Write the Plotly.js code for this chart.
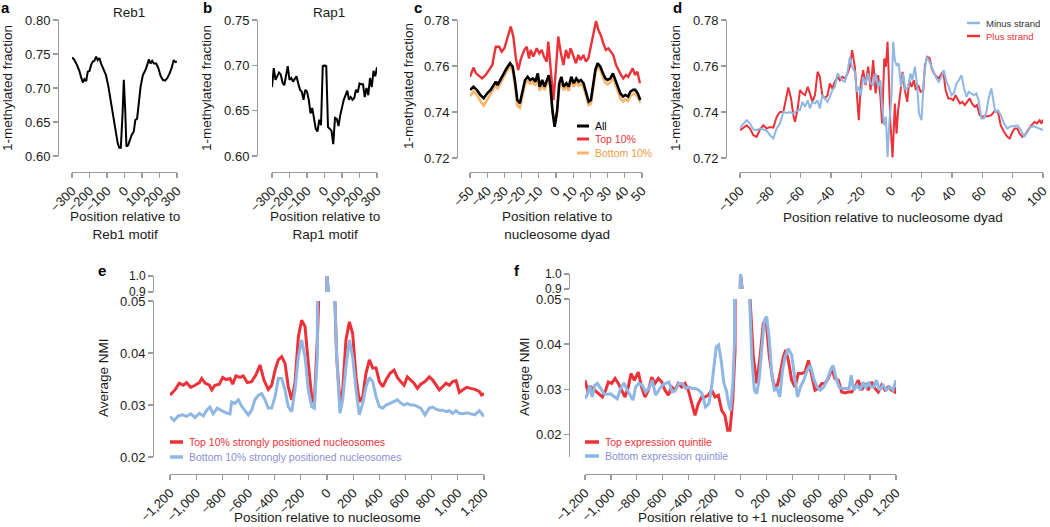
<!DOCTYPE html>
<html><head><meta charset="utf-8">
<script src="https://cdn.plot.ly/plotly-3.0.1.min.js"></script>
<style>html,body{margin:0;padding:0;background:#fff;} #chart{width:1050px;height:527px;}</style>
</head><body><div id="chart"></div>
<script>
// ---------- DATA ----------
// Panel a: Reb1
const aPos = [-300,-288,-272,-259,-248,-238,-229,-219,-210,-200,-191,-181,-172,-162,-153,-143,-134,-121,-106,-92,-79,-64,-51,-39,-30,-21,-11,-4,4,11,21,30,41,53,62,72,81,92,105,119,130,139,149,158,168,181,194,206,219,232,243,257,270,281,291,300];
const aVal = [0.745,0.742,0.734,0.726,0.716,0.708,0.713,0.710,0.724,0.725,0.734,0.739,0.740,0.746,0.741,0.744,0.736,0.729,0.719,0.702,0.682,0.658,0.633,0.619,0.612,0.612,0.663,0.712,0.668,0.614,0.616,0.624,0.631,0.636,0.653,0.655,0.682,0.702,0.719,0.726,0.734,0.742,0.736,0.740,0.736,0.736,0.729,0.718,0.712,0.711,0.714,0.721,0.730,0.741,0.738,0.739];
// Panel b: Rap1
const bPos = [-300,-290,-280,-270,-260,-250,-240,-230,-220,-210,-200,-190,-180,-170,-160,-150,-140,-130,-120,-110,-100,-90,-80,-70,-60,-50,-40,-30,-20,-10,0,10,20,30,40,50,60,70,80,90,100,110,120,130,140,150,160,170,180,190,200,210,220,230,240,250,260,270,280,290,300];
const bVal = [0.676,0.697,0.684,0.688,0.692,0.690,0.681,0.678,0.687,0.699,0.684,0.686,0.682,0.685,0.688,0.680,0.673,0.671,0.662,0.673,0.671,0.662,0.647,0.653,0.642,0.630,0.627,0.640,0.634,0.699,0.700,0.699,0.632,0.630,0.628,0.613,0.642,0.641,0.633,0.645,0.654,0.662,0.667,0.672,0.662,0.665,0.662,0.664,0.673,0.670,0.680,0.679,0.679,0.665,0.675,0.667,0.686,0.676,0.694,0.688,0.698];
// Panel c: nucleosome dyad
const cTopPos = [-50,-48,-46.5,-45,-43,-41,-39,-37,-36,-35,-33,-31.6,-30,-28,-26.3,-24.8,-23.3,-22,-20.3,-18.4,-17,-15.7,-14.7,-13.2,-11.2,-9.7,-8.3,-7,-5.4,-4.5,-3.1,-1.5,0,1.3,2.7,4.3,5.8,7.2,8.5,10,11.6,13,14.3,15.9,17.4,18.8,20.3,21.7,23.3,24.6,26,27.5,29,30.4,31.8,33.3,34.9,36.2,37.8,39.1,40.7,42,43.4,44.6,45.9,47.3,48.8];
const cTopVal = [.7553,.7593,.7568,.756,.7546,.756,.7583,.7604,.7648,.7684,.7684,.7662,.7677,.7728,.7771,.7728,.7633,.7583,.7633,.767,.7684,.7633,.767,.7641,.7677,.7655,.767,.7641,.7619,.7706,.759,.7452,.759,.7728,.7662,.7604,.767,.7633,.7677,.7648,.7612,.7648,.7626,.7648,.7619,.7633,.7691,.7749,.7796,.7757,.7735,.7699,.767,.7677,.7662,.7648,.7604,.7583,.7561,.7546,.7561,.7553,.7575,.759,.7561,.7575,.7525];
const cAllPos = [-50,-48,-46,-44,-42,-40,-38,-36.5,-35,-34,-32,-30.6,-28.7,-26.7,-25.2,-23.8,-22.5,-21,-19.4,-18,-16.5,-15,-13.5,-12,-10.6,-9.5,-8,-6.7,-5.6,-4.2,-3.3,-2,-0.8,0.6,1.9,3.1,4.4,6,7.4,8.9,10.3,11.8,13.2,14.5,16,17.6,19,20.3,21.5,22.9,24.2,25.8,27.3,28.7,30,31.6,33.1,34.5,35.8,37.4,39,40.3,41.9,43.2,44.8,46.1,47.5,49];
const cAllVal = [.7496,.751,.7496,.7474,.746,.7481,.7496,.7517,.7532,.7517,.7546,.7568,.759,.7612,.7597,.7532,.7452,.7438,.7488,.7539,.7553,.7539,.7546,.7532,.7568,.751,.7539,.751,.7532,.756,.7517,.7401,.7336,.7401,.7525,.7553,.751,.7525,.751,.7553,.7525,.7546,.7532,.7539,.7525,.7481,.7445,.7452,.7517,.7583,.7612,.7597,.7568,.7546,.7539,.7546,.7568,.7539,.751,.7481,.7467,.7474,.7467,.7488,.7496,.7496,.7481,.7452];
const cBotVal = [.7468,.749,.7475,.7448,.7428,.7455,.748,.7502,.7518,.75,.7528,.7552,.7577,.7598,.7582,.7512,.7428,.7418,.747,.7522,.754,.7522,.753,.7515,.755,.7492,.7522,.7495,.7515,.7545,.7505,.7405,.7355,.7405,.751,.7538,.7495,.751,.7492,.7538,.751,.753,.7515,.7522,.7508,.7462,.743,.7436,.7502,.7568,.7598,.7582,.755,.7528,.752,.753,.755,.752,.7492,.746,.7445,.7455,.7448,.747,.7478,.748,.7465,.744];
// Panel d: strands
const dPlusPos = [-100,-97.8,-95.6,-93.4,-91.2,-89,-86.8,-84.6,-82.4,-80.2,-78,-75.8,-73.6,-71.4,-69.6,-68.1,-66.3,-64.8,-63.7,-61.9,-60.4,-58.8,-57.1,-55.3,-53.8,-52.3,-50.5,-48.8,-47.3,-45.7,-44,-42.2,-40.7,-39.1,-37.4,-35.6,-34.1,-32.5,-30.8,-29,-27.5,-26,-24.2,-22.9,-21.6,-20.2,-18.7,-17.1,-15.4,-13.8,-12.1,-10.5,-8.8,-7.3,-6.2,-4.8,-3.7,-2.6,-1.8,-0.7,0.7,2.2,3.3,4.4,6,7.3,8.8,10.4,11.7,13.2,14.8,16.1,17.6,19.2,21,22.1,23.6,25.2,26.5,28,29.8,31.3,33.1,34.2,35.7,37.5,39,40.8,42.3,43.6,45.2,46.7,48.4,50,51.6,53.1,54.9,56.4,58.2,59.7,61.5,63.7,65.9,68.1,70.3,72.1,74.3,76.5,78,79.8,81.3,83.1,84.6,86.4,87.9,90.1,92.3,94.5,96,97.8,98.9,100];
const dPlusVal = [.7321,.7332,.7342,.7328,.7299,.7292,.7324,.7342,.7328,.7335,.7332,.7379,.74,.74,.7459,.7507,.7459,.7386,.7357,.7415,.7495,.7481,.7473,.7509,.7481,.7444,.7473,.7575,.7553,.7473,.7459,.7473,.7524,.7502,.7531,.7553,.7538,.7553,.7546,.7568,.7597,.7669,.7597,.7459,.7364,.7524,.7582,.7517,.7597,.7495,.7626,.7481,.756,.7466,.735,.7633,.7597,.7705,.7538,.735,.7202,.7437,.7306,.7408,.7495,.7575,.7495,.7444,.7538,.7509,.7538,.7495,.7517,.7488,.7495,.7604,.764,.7633,.759,.7568,.7553,.7546,.7568,.7575,.7495,.7459,.7459,.7451,.7473,.7459,.7437,.7444,.743,.7444,.7459,.7437,.7422,.743,.7386,.7379,.7382,.7382,.7386,.7405,.74,.7342,.7313,.7292,.7285,.7313,.7328,.7328,.7306,.7292,.7299,.7321,.7342,.7357,.735,.7364,.735,.7367];
const dMinusPos = [-100,-97.8,-95.6,-93.4,-91.2,-89,-86.8,-84.6,-82.4,-80.2,-78,-75.8,-73.6,-71.4,-69.2,-67,-64.8,-62.6,-60.4,-58.8,-57.1,-55.3,-53.8,-52.3,-50.5,-48.8,-47.3,-45.7,-44,-42.2,-40.7,-39.1,-37.4,-35.6,-34.1,-32.5,-30.8,-29,-27.5,-26,-24.2,-22.9,-21.6,-20.2,-18.7,-17.1,-15.4,-13.8,-12.1,-10.5,-8.8,-7.3,-6.2,-4.8,-3.7,-2.6,-1.5,0,1.1,2.2,3.3,4.8,6.2,7.7,9.2,11,12.5,13.8,15.4,16.9,18.2,19.8,21.3,23.1,24.6,26.4,27.9,29.7,31.2,33,34.5,36.3,37.8,39.6,41.1,42.9,44.4,46.2,47.7,49.5,51,52.7,54.3,56,57.5,59.3,61,62.6,64.1,65.9,67,68.5,70.3,72.1,74.3,76.5,78.7,80.9,83.1,85.3,87.5,89.7,91.9,94.1,96.3,98.5,100];
const dMinusVal = [.7332,.735,.7364,.735,.7324,.7321,.7328,.7324,.7318,.7299,.7285,.7328,.735,.74,.7396,.74,.7393,.7405,.7408,.7444,.7422,.7451,.7415,.7444,.7437,.7451,.7415,.7473,.7459,.7444,.7466,.7495,.7509,.7568,.7553,.7538,.7531,.7575,.764,.7597,.7575,.7488,.7509,.7473,.7553,.7524,.7568,.7524,.7517,.7568,.7509,.7538,.7422,.7342,.7379,.7204,.735,.7466,.7705,.7626,.7604,.7611,.7509,.7568,.7495,.7509,.7568,.7538,.7597,.7517,.7393,.7364,.7538,.764,.7626,.7597,.7575,.7546,.7531,.7553,.7582,.7531,.7509,.7473,.7481,.7524,.7538,.756,.7509,.7466,.7488,.7481,.7473,.7481,.7451,.7372,.7372,.74,.7459,.7502,.7451,.74,.7408,.7386,.735,.7328,.7338,.7338,.7342,.7324,.7292,.7313,.7335,.7338,.7332,.7328,.7321];
// Panel e: NMI around nucleosome
const eTopPos = [-1200,-1162,-1129,-1098,-1073,-1042,-1009,-976,-958,-932,-899,-881,-856,-823,-797,-772,-741,-721,-696,-665,-640,-609,-576,-543,-512,-482,-449,-423,-397,-372,-346,-321,-296,-270,-245,-219,-194,-168,-143,-117,-97,-74,-50,-25,0,25,48,74,99,120,145,171,196,222,247,273,298,324,349,375,400,426,451,482,512,538,563,589,614,640,665,691,716,749,782,808,833,859,884,910,935,961,986,1012,1037,1068,1098,1131,1164,1182,1200];
const eTopVal = [.0319,.0329,.0342,.0338,.0343,.0334,.0338,.0343,.0351,.0342,.0338,.0329,.0338,.034,.0353,.0349,.0351,.034,.0356,.0353,.0356,.0343,.0345,.0358,.0377,.0348,.033,.0338,.0367,.0387,.0393,.038,.0335,.031,.0342,.0431,.0463,.0451,.038,.0316,.0303,.0425,.06,.2,1.0,.2,.06,.0393,.0303,.0329,.0425,.046,.0438,.0354,.0306,.0316,.0361,.0387,.0371,.0371,.0345,.0335,.0348,.0361,.0367,.0353,.0345,.0338,.0354,.0348,.0342,.0332,.034,.0345,.0354,.0348,.0338,.0329,.0335,.0342,.0338,.0345,.0347,.0324,.0329,.0334,.0332,.033,.0326,.0319,.0322];
const eBotPos = [-1200,-1169,-1137,-1104,-1073,-1042,-1009,-976,-945,-920,-895,-870,-839,-806,-772,-741,-729,-704,-678,-653,-627,-602,-576,-551,-525,-500,-474,-449,-423,-397,-372,-346,-321,-296,-270,-245,-219,-194,-168,-143,-117,-97,-74,-50,-25,0,25,48,74,99,120,145,171,196,222,247,273,298,324,349,375,400,426,451,482,512,538,563,589,614,640,665,691,716,749,782,808,833,859,884,910,935,961,986,1012,1037,1068,1098,1131,1164,1200];
const eBotVal = [.0278,.027,.0279,.0281,.0278,.0283,.0276,.0284,.0279,.029,.0296,.0283,.0294,.0289,.0285,.0283,.0306,.0303,.031,.0298,.029,.0281,.029,.031,.0319,.0322,.031,.0294,.0294,.0316,.0351,.0351,.0329,.0297,.0287,.0329,.0393,.0425,.0393,.0329,.0297,.0294,.0393,.06,.2,1.0,.2,.06,.0393,.0284,.031,.0374,.0425,.0393,.0329,.0281,.0303,.0335,.0353,.0345,.0316,.0297,.0294,.03,.0303,.0306,.031,.0304,.03,.0303,.03,.03,.0297,.0294,.0281,.0294,.0296,.0292,.029,.029,.0287,.0289,.0284,.0289,.0284,.0283,.0285,.0283,.0281,.0289,.0278];
// Panel f: NMI around +1 nucleosome
const fTopPos = [-1200,-1180,-1154,-1128,-1097,-1066,-1040,-1020,-994,-968,-943,-917,-891,-866,-845,-819,-789,-763,-737,-711,-685,-660,-634,-608,-583,-557,-531,-505,-480,-454,-428,-403,-377,-351,-326,-300,-274,-248,-222,-197,-171,-145,-120,-99,-81,-60,-42,-20,0,20,45,74,99,125,151,176,197,223,249,274,300,331,349,369,395,421,446,472,498,524,549,575,601,627,652,678,704,729,755,781,806,832,858,884,909,935,961,986,1012,1038,1063,1089,1115,1140,1166,1192,1200];
const fTopVal = [.032,.0298,.0305,.0298,.029,.0283,.0298,.0316,.0313,.0324,.0313,.0298,.0283,.0305,.0335,.032,.0338,.0305,.0283,.0298,.0327,.0313,.0324,.0316,.0298,.0287,.0305,.0298,.0313,.0305,.0313,.0298,.0268,.0242,.0268,.0283,.0283,.0287,.0298,.0283,.0287,.0253,.0242,.0209,.0209,.0276,.0387,.1,1.0,.3,.1,.0498,.0372,.0313,.0372,.0446,.0453,.0372,.032,.0298,.0327,.0372,.0387,.0364,.032,.0305,.0335,.0335,.0338,.0364,.0331,.0298,.0302,.0313,.0313,.0324,.0346,.0324,.032,.0294,.0292,.0294,.0294,.0305,.032,.0298,.0313,.0298,.0316,.0302,.0294,.0309,.0298,.0305,.0298,.0294,.0305];
const fBotPos = [-1200,-1180,-1163,-1145,-1125,-1104,-1079,-1053,-1028,-1002,-976,-951,-925,-899,-874,-848,-830,-809,-784,-758,-732,-707,-681,-655,-630,-604,-578,-553,-527,-501,-475,-450,-424,-398,-373,-347,-321,-296,-270,-244,-226,-205,-187,-169,-149,-128,-110,-92,-77,-59,-46,-20,0,20,45,66,87,107,125,143,164,184,202,220,241,262,282,303,324,344,369,395,421,441,462,488,514,539,565,591,616,642,668,694,714,735,761,786,812,838,854,874,900,925,946,967,987,1007,1028,1048,1074,1100,1125,1151,1176,1200];
const fBotVal = [.0279,.029,.0309,.0283,.0309,.0313,.0302,.029,.0289,.029,.0284,.0279,.0302,.0314,.0298,.0283,.0276,.0305,.0313,.0309,.0294,.0302,.032,.0287,.0298,.0309,.0313,.0316,.0294,.0298,.0313,.0313,.0302,.0305,.0302,.0302,.0298,.029,.0261,.0268,.0298,.0357,.0394,.0398,.0364,.0313,.0298,.0268,.0253,.0313,.0409,.2,1.0,.25,.07,.055,.0372,.0298,.029,.032,.0394,.0453,.0461,.0416,.0335,.0298,.0302,.0283,.0342,.0372,.039,.0376,.032,.0283,.0305,.032,.0342,.0353,.0324,.0305,.0298,.0305,.032,.0342,.0353,.0327,.0305,.0302,.0302,.0302,.0331,.0298,.0309,.0298,.0316,.0302,.0316,.0305,.0305,.032,.0298,.0309,.0298,.0305,.0298,.032];

// ---------- STYLE / LAYOUT ----------
const W = 1050, H = 527;
const fx = p => p / W;
const fy = p => 1 - p / H;
const FONT = '"Liberation Sans", Arial, Helvetica, sans-serif';
const AXC = '#9b9b9b';
const TXT = '#1a1a1a';
const RED = '#ec3238', BLUE = '#8fb7e3', ORANGE = '#fbb46c', BLACK = '#000000';
const LEGBLUE = '#8c90d8';

function xax(l, r, yline, range, dtick, fmt) {
  return {domain: [fx(l), fx(r)], range: range, anchor: 'free', position: fy(yline),
    showline: true, linecolor: AXC, linewidth: 1.3, ticks: 'outside', ticklen: 5, tickcolor: AXC, tickwidth: 1.3,
    tick0: 0, dtick: dtick, tickangle: -45, tickformat: fmt, showgrid: false, zeroline: false,
    tickfont: {family: FONT, size: 13, color: TXT}, fixedrange: true};
}
function yax(b, t, xline, range, dtick, fmt, extra) {
  const o = {domain: [fy(b), fy(t)], range: range, anchor: 'free', position: fx(xline),
    showline: true, linecolor: AXC, linewidth: 1.3, ticks: 'outside', ticklen: 5, tickcolor: AXC, tickwidth: 1.3,
    tick0: 0, dtick: dtick, tickformat: fmt, showgrid: false, zeroline: false,
    tickfont: {family: FONT, size: 13, color: TXT}, fixedrange: true};
  return Object.assign(o, extra || {});
}
function line(x, y, xa, ya, color, width, name) {
  return {x: x, y: y, xaxis: xa, yaxis: ya, type: 'scatter', mode: 'lines', name: name,
    line: {color: color, width: width}, showlegend: false, hoverinfo: 'skip'};
}

const traces = [
  line(aPos, aVal, 'x', 'y', BLACK, 2, 'Reb1'),
  line(bPos, bVal, 'x2', 'y2', BLACK, 2, 'Rap1'),
  line(cAllPos, cBotVal, 'x3', 'y3', ORANGE, 2.6, 'Bottom 10%'),
  line(cTopPos, cTopVal, 'x3', 'y3', RED, 2.4, 'Top 10%'),
  line(cAllPos, cAllVal, 'x3', 'y3', BLACK, 2.6, 'All'),
  line(dPlusPos, dPlusVal, 'x4', 'y4', RED, 2, 'Plus strand'),
  line(dMinusPos, dMinusVal, 'x4', 'y4', BLUE, 2, 'Minus strand'),
  line(eTopPos, eTopVal, 'x5', 'y5', RED, 3, 'Top 10% strongly positioned nucleosomes'),
  line(eBotPos, eBotVal, 'x5', 'y5', BLUE, 3, 'Bottom 10% strongly positioned nucleosomes'),
  line(eTopPos, eTopVal, 'x5', 'y6', RED, 3, 'Top 10% (break)'),
  line(eBotPos, eBotVal, 'x5', 'y6', BLUE, 3, 'Bottom 10% (break)'),
  line(fTopPos, fTopVal, 'x6', 'y7', RED, 3, 'Top expression quintile'),
  line(fBotPos, fBotVal, 'x6', 'y7', BLUE, 3, 'Bottom expression quintile'),
  line(fTopPos, fTopVal, 'x6', 'y8', RED, 3, 'Top (break)'),
  line(fBotPos, fBotVal, 'x6', 'y8', BLUE, 3, 'Bottom (break)')
];

const annotations = [];
const shapes = [];
function txt(x, y, text, opts) {
  opts = opts || {};
  annotations.push({xref: 'paper', yref: 'paper', x: fx(x), y: fy(y), text: text, showarrow: false,
    xanchor: opts.xanchor || 'center', yanchor: opts.yanchor || 'middle', textangle: opts.angle || 0,
    align: opts.align || 'center',
    font: {family: FONT, size: opts.size || 13.5, color: opts.color || TXT}});
}
function legendItem(x0, x1, y, color, lw, label, labelColor, size) {
  shapes.push({type: 'line', xref: 'paper', yref: 'paper', x0: fx(x0), x1: fx(x1), y0: fy(y), y1: fy(y),
    line: {color: color, width: lw}});
  txt(x1 + 4, y, label, {xanchor: 'left', size: size, color: labelColor});
}

// panel letters
txt(-1, 8, '<b>a</b>', {xanchor: 'left', size: 15, color: '#000'});
txt(201, 8, '<b>b</b>', {xanchor: 'left', size: 15, color: '#000'});
txt(412, 8, '<b>c</b>', {xanchor: 'left', size: 15, color: '#000'});
txt(671, 8, '<b>d</b>', {xanchor: 'left', size: 15, color: '#000'});
txt(96, 270, '<b>e</b>', {xanchor: 'left', size: 15, color: '#000'});
txt(512, 270, '<b>f</b>', {xanchor: 'left', size: 15, color: '#000'});
// panel titles
txt(129, 13, 'Reb1');
txt(329, 13, 'Rap1');
// y titles
txt(7, 88, '1-methylated fraction', {angle: -90});
txt(206, 88, '1-methylated fraction', {angle: -90});
txt(408, 86, '1-methylated fraction', {angle: -90});
txt(675, 88, '1-methylated fraction', {angle: -90});
txt(103, 378, 'Average NMI', {angle: -90});
txt(524, 377, 'Average NMI', {angle: -90});
// x titles
txt(125, 225, 'Position relative to<br>Reb1 motif');
txt(325, 225, 'Position relative to<br>Rap1 motif');
txt(557, 225, 'Position relative to<br>nucleosome dyad');
txt(893, 218, 'Position relative to nucleosome dyad');
txt(327, 517, 'Position relative to nucleosome');
txt(741, 517, 'Position relative to +1 nucleosome');
// legends
legendItem(577, 589, 126, BLACK, 3, 'All', '#000', 10.5);
legendItem(577, 589, 139, RED, 3, 'Top 10%', RED, 10.5);
legendItem(577, 589, 153, ORANGE, 3, 'Bottom 10%', '#f39a45', 10.5);
legendItem(967, 980, 23, BLUE, 2.5, 'Minus strand', '#333', 9.5);
legendItem(967, 980, 36, RED, 2.5, 'Plus strand', RED, 9.5);
legendItem(170, 183, 442, RED, 3.5, 'Top 10% strongly positioned nucleosomes', RED, 10.5);
legendItem(170, 183, 457, BLUE, 3.5, 'Bottom 10% strongly positioned nucleosomes', LEGBLUE, 10.5);
legendItem(585, 599, 442, RED, 3.5, 'Top expression quintile', RED, 10.5);
legendItem(585, 599, 456, BLUE, 3.5, 'Bottom expression quintile', LEGBLUE, 10.5);

const brk = {tickvals: [0.9, 1.0], ticktext: ['0.9', '1.0'], tickfont: {family: FONT, size: 12, color: TXT}};
const layout = {
  width: W, height: H, margin: {l: 0, r: 0, t: 0, b: 0},
  paper_bgcolor: '#fff', plot_bgcolor: 'rgba(0,0,0,0)', showlegend: false,
  font: {family: FONT, color: TXT},
  xaxis:  xax(72, 177, 172, [-300, 300], 100, 'd'),
  yaxis:  yax(156, 20, 58, [0.6, 0.8], 0.05, '.2f'),
  xaxis2: xax(272, 377, 172, [-300, 300], 100, 'd'),
  yaxis2: yax(156, 20, 257, [0.6, 0.75], 0.05, '.2f'),
  xaxis3: xax(470, 642, 172, [-50, 50], 10, 'd'),
  yaxis3: yax(158, 20, 457, [0.72, 0.78], 0.02, '.2f'),
  xaxis4: xax(740, 1043, 172, [-100, 100], 20, 'd'),
  yaxis4: yax(158, 20, 726, [0.72, 0.78], 0.02, '.2f'),
  xaxis5: xax(170, 484, 474, [-1200, 1200], 200, ','),
  yaxis5: yax(457, 301, 153, [0.02, 0.05], 0.01, '.2f'),
  yaxis6: yax(292, 276, 153, [0.9, 1.0], 0.1, '.1f', brk),
  xaxis6: xax(585, 896, 474, [-1200, 1200], 200, ','),
  yaxis7: yax(457, 299, 569, [0.015, 0.05], 0.01, '.2f'),
  yaxis8: yax(289, 274, 569, [0.9, 1.0], 0.1, '.1f', brk),
  annotations: annotations,
  shapes: shapes
};

Plotly.newPlot('chart', traces, layout, {displayModeBar: false, staticPlot: true});
</script>
</body></html>
